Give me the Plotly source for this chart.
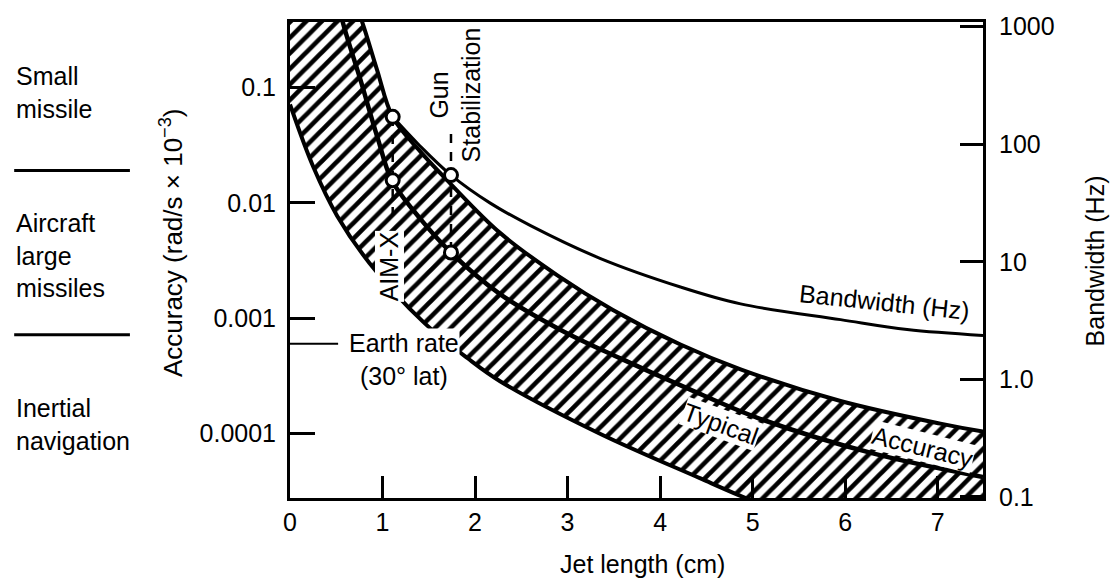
import numpy as np
import plotly.graph_objects as go

# ---------------- data ----------------
# lower edge of the hatched "typical accuracy" band
jet_length_lower = [0.00, 0.25, 0.51, 0.86, 1.44, 1.92, 2.27, 3.35, 4.43, 4.92, 5.51, 7.60]
accuracy_lower = [0.071, 0.0206, 0.0077, 0.0030, 0.00093, 0.00045, 0.000285, 0.00010,
                  0.0000412, 0.0000278, 0.000018, 0.0000081]

# upper edge of the band
jet_length_upper = [0.65, 0.78, 0.94, 1.11, 1.40, 1.73, 2.27, 2.89, 3.49, 4.22, 4.87, 5.95, 7.03, 7.49, 7.60]
accuracy_upper = [0.69, 0.368, 0.1426, 0.0553, 0.0283, 0.01475, 0.00549, 0.002355, 0.00118,
                  0.000592, 0.000361, 0.000192, 0.0001222, 0.0001042, 0.000101]

# typical accuracy curve (middle, thick)
jet_length_typical = [0.51, 0.57, 0.76, 0.95, 1.10, 1.40, 1.74, 2.27, 2.92, 3.57, 4.29, 5.08, 6.30, 7.49]
accuracy_typical = [0.627, 0.368, 0.117, 0.0358, 0.01566, 0.0074, 0.00371, 0.00162, 0.000796,
                    0.000449, 0.000248, 0.0001346, 0.0000675, 0.0000421]

# bandwidth curve (right axis, Hz)
jet_length_bw = [1.11, 1.40, 1.74, 2.16, 2.60, 3.35, 4.22, 4.87, 5.95, 6.67, 7.49]
bandwidth_hz = [171, 97.6, 54.6, 31.7, 20.3, 10.7, 6.1, 4.38, 3.22, 2.65, 2.36]

# design points
design_names = ["AIM-X", "Gun Stabilization"]
design_jet_length = [1.11, 1.74]
design_bandwidth = [171, 54.6]
design_accuracy = [0.01566, 0.00371]
design_dash_top = [0.0553, 0.0395]
design_dash_bottom = [0.0074, 0.00371]

earth_rate = 0.0006
earth_rate_len = [0.0, 0.52]

x_ticks = [0, 1, 2, 3, 4, 5, 6, 7]
acc_ticks = [0.0001, 0.001, 0.01, 0.1]
acc_tick_text = ["0.0001", "0.001", "0.01", "0.1"]
bw_ticks = [0.1, 1, 10, 100, 1000]
bw_tick_text = ["0.1", "1.0", "10", "100", "1000"]

category_labels = ["Small<br>missile", "Aircraft<br>large<br>missiles", "Inertial<br>navigation"]

FONT = "Liberation Sans, Arial, sans-serif"
FS = 25

fig = go.Figure()

# hatched band polygon
poly_x = jet_length_lower + jet_length_upper[::-1] + [-0.1, -0.1]
poly_y = accuracy_lower + accuracy_upper[::-1] + [0.69, accuracy_lower[0]]
fig.add_trace(go.Scatter(
    x=poly_x, y=poly_y, mode="lines", fill="toself",
    line=dict(width=0, shape="spline"),
    fillcolor="white",
    fillpattern=dict(shape="/", size=11, solidity=0.42, fgcolor="black", bgcolor="white", fillmode="replace"),
    hoverinfo="skip"))

# band edges and typical curve
fig.add_trace(go.Scatter(x=jet_length_lower, y=accuracy_lower, mode="lines",
                         line=dict(color="black", width=4, shape="spline")))
fig.add_trace(go.Scatter(x=jet_length_upper, y=accuracy_upper, mode="lines",
                         line=dict(color="black", width=4, shape="spline")))
fig.add_trace(go.Scatter(x=jet_length_typical, y=accuracy_typical, mode="lines",
                         line=dict(color="black", width=4.5, shape="spline")))

# bandwidth curve on right axis
fig.add_trace(go.Scatter(x=jet_length_bw, y=bandwidth_hz, mode="lines", yaxis="y2",
                         line=dict(color="black", width=3, shape="spline")))

# dashed verticals for design points
for xv, yt, yb in zip(design_jet_length, design_dash_top, design_dash_bottom):
    fig.add_trace(go.Scatter(x=[xv, xv], y=[yt, yb], mode="lines",
                             line=dict(color="black", width=2.5, dash="dash")))

# earth rate marker
fig.add_trace(go.Scatter(x=earth_rate_len, y=[earth_rate, earth_rate], mode="lines",
                         line=dict(color="black", width=2), cliponaxis=False))

# circles
fig.add_trace(go.Scatter(x=design_jet_length, y=design_bandwidth, mode="markers", yaxis="y2",
                         marker=dict(size=13, color="white", line=dict(color="black", width=3))))
fig.add_trace(go.Scatter(x=design_jet_length, y=design_accuracy, mode="markers",
                         marker=dict(size=13, color="white", line=dict(color="black", width=3))))

ann = []
tf = dict(family=FONT, size=FS, color="black")
# in-plot labels (x data, y = log10 of accuracy value)
ann.append(dict(x=1.08, y=np.log10(0.00281), xref="x", yref="y", text="AIM-X", textangle=-90,
                showarrow=False, font=tf, xanchor="center", yanchor="middle", bgcolor="white", borderpad=0))
ann.append(dict(x=1.784, y=np.log10(0.0853), xref="x", yref="y", text="Gun<br>Stabilization",
                textangle=-90, showarrow=False, font=tf, xanchor="center", yanchor="middle"))
ann.append(dict(x=1.23, y=np.log10(0.00044), xref="x", yref="y", text="Earth rate<br>(30° lat)",
                showarrow=False, font=tf, xanchor="center", yanchor="middle", bgcolor="white", borderpad=0))
ann.append(dict(x=6.43, y=np.log10(0.00138), xref="x", yref="y", text="Bandwidth (Hz)", textangle=6,
                showarrow=False, font=tf, xanchor="center", yanchor="middle"))
ann.append(dict(x=4.66, y=np.log10(0.000122), xref="x", yref="y", text="Typical", textangle=20,
                showarrow=False, font=tf, xanchor="center", yanchor="middle", bgcolor="white", borderpad=0))
ann.append(dict(x=6.84, y=np.log10(0.000076), xref="x", yref="y", text="Accuracy", textangle=14,
                showarrow=False, font=tf, xanchor="center", yanchor="middle", bgcolor="white", borderpad=0))

# left category labels
for lab, yp in zip(category_labels, [0.851, 0.509, 0.154]):
    ann.append(dict(x=-0.398, y=yp, xref="paper", yref="paper", text=lab, align="left",
                    showarrow=False, font=tf, xanchor="left", yanchor="middle"))

# axis titles
ann.append(dict(x=-0.170, y=0.536, xref="paper", yref="paper",
                text="Accuracy (rad/s × 10<sup>−3</sup>)", textangle=-90,
                showarrow=False, font=dict(family=FONT, size=26, color="black"),
                xanchor="center", yanchor="middle"))
ann.append(dict(x=1.163, y=0.499, xref="paper", yref="paper", text="Bandwidth (Hz)", textangle=-90,
                showarrow=False, font=tf, xanchor="center", yanchor="middle"))
ann.append(dict(x=0.508, y=-0.138, xref="paper", yref="paper", text="Jet length (cm)",
                showarrow=False, font=tf, xanchor="center", yanchor="middle"))

shapes = []
for yp in [0.688, 0.343]:
    shapes.append(dict(type="line", xref="paper", yref="paper", x0=-0.398, x1=-0.231, y0=yp, y1=yp,
                       line=dict(color="black", width=3)))

axis_common = dict(showgrid=False, zeroline=False, showline=True, linecolor="black", linewidth=3,
                   ticks="inside", tickcolor="black", tickwidth=3,
                   tickfont=dict(family=FONT, size=FS, color="black"))

fig.update_layout(
    width=1114, height=579,
    margin=dict(l=290, r=131, t=17, b=81),
    plot_bgcolor="white", paper_bgcolor="white",
    showlegend=False,
    xaxis=dict(range=[0, 7.49], tickvals=x_ticks, ticklen=22, mirror=True, ticklabelstandoff=0, **axis_common),
    yaxis=dict(type="log", range=[-4.557, -0.434], tickvals=acc_ticks, ticktext=acc_tick_text,
               ticklen=25, ticklabelstandoff=6, **axis_common),
    yaxis2=dict(type="log", range=[-1.01, 3.04], overlaying="y", side="right", tickvals=bw_ticks,
                ticktext=bw_tick_text, ticklen=23, ticklabelstandoff=8, **axis_common),
    annotations=ann, shapes=shapes,
)

fig.write_html("out.html", config={"displayModeBar": False},
               post_script="document.body.style.margin='0px';document.body.style.overflow='hidden';")
